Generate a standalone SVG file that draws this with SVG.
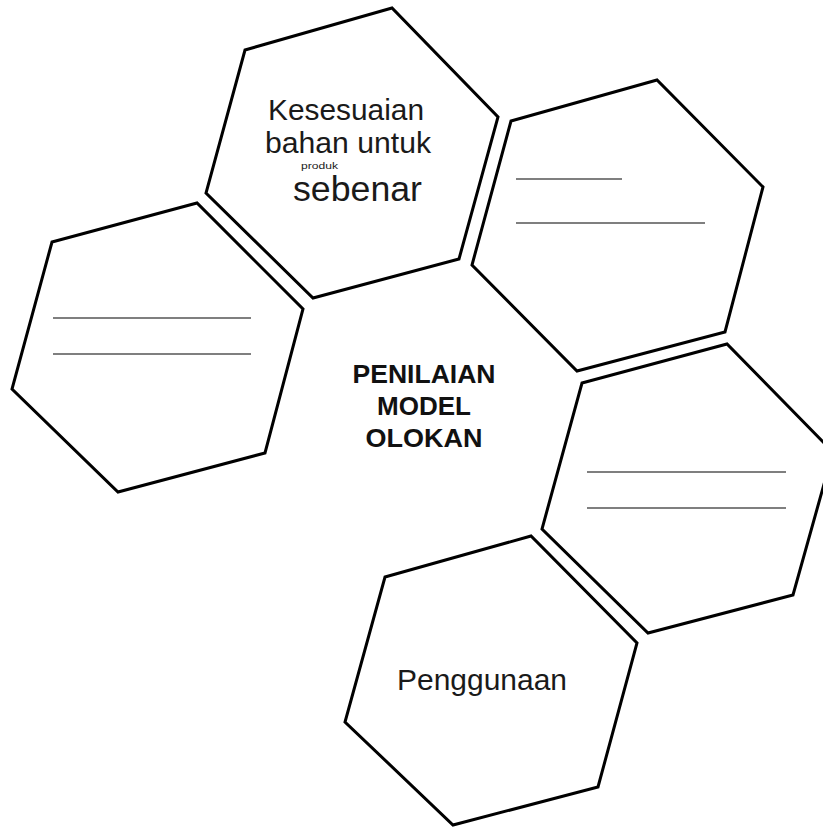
<svg xmlns="http://www.w3.org/2000/svg" width="823" height="827" viewBox="0 0 823 827">
<style>
.hex{fill:#fff;stroke:#000;stroke-width:3;stroke-linejoin:miter}
.ln{stroke:#555;stroke-width:1.6}
.t{font-family:"Liberation Sans",Arial,sans-serif;fill:#1a1a1a}
.b{font-family:"Liberation Sans",Arial,sans-serif;font-weight:bold;fill:#111;font-size:25px;text-anchor:middle}
</style>
<rect width="823" height="827" fill="#fff"/>
<g id="connectors"></g>
<g id="hex-top">
<polygon class="hex" points="245,50 392,8 498,117 459,259 313,298 206,193"/>
<text class="t" x="268" y="120" font-size="29.5" textLength="156" lengthAdjust="spacingAndGlyphs">Kesesuaian</text>
<text class="t" x="265" y="153" font-size="29.5" textLength="166" lengthAdjust="spacingAndGlyphs">bahan untuk</text>
<text class="t" x="301" y="169" font-size="9" textLength="37" lengthAdjust="spacingAndGlyphs">produk</text>
<text class="t" x="293" y="201" font-size="35.5" textLength="129" lengthAdjust="spacingAndGlyphs">sebenar</text>
</g>
<g id="hex-right-top">
<polygon class="hex" points="511,121 657,80 763,187 725,332 577,371 472,265"/>
<line class="ln" x1="516" y1="179" x2="622" y2="179"/>
<line class="ln" x1="516" y1="223" x2="705" y2="223"/>
</g>
<g id="hex-left">
<polygon class="hex" points="52,242 197,203 303,309 265,453 118,492 12,389"/>
<line class="ln" x1="53" y1="318" x2="251" y2="318"/>
<line class="ln" x1="53" y1="354" x2="251" y2="354"/>
</g>
<g id="hex-right-mid">
<polygon class="hex" points="582,383 727,344 833,452 793,595 648,633 542,529"/>
<line class="ln" x1="587" y1="472" x2="786" y2="472"/>
<line class="ln" x1="587" y1="508" x2="786" y2="508"/>
</g>
<g id="hex-bottom">
<polygon class="hex" points="385,577 531,536 637,643 598,787 453,825 345,722"/>
<text class="t" x="397" y="690" font-size="29" textLength="170" lengthAdjust="spacingAndGlyphs">Penggunaan</text>
</g>
<g id="center">
<text class="b" x="424" y="383" textLength="143" lengthAdjust="spacingAndGlyphs">PENILAIAN</text>
<text class="b" x="424" y="415" textLength="94" lengthAdjust="spacingAndGlyphs">MODEL</text>
<text class="b" x="424" y="447" textLength="117" lengthAdjust="spacingAndGlyphs">OLOKAN</text>
</g>
</svg>
